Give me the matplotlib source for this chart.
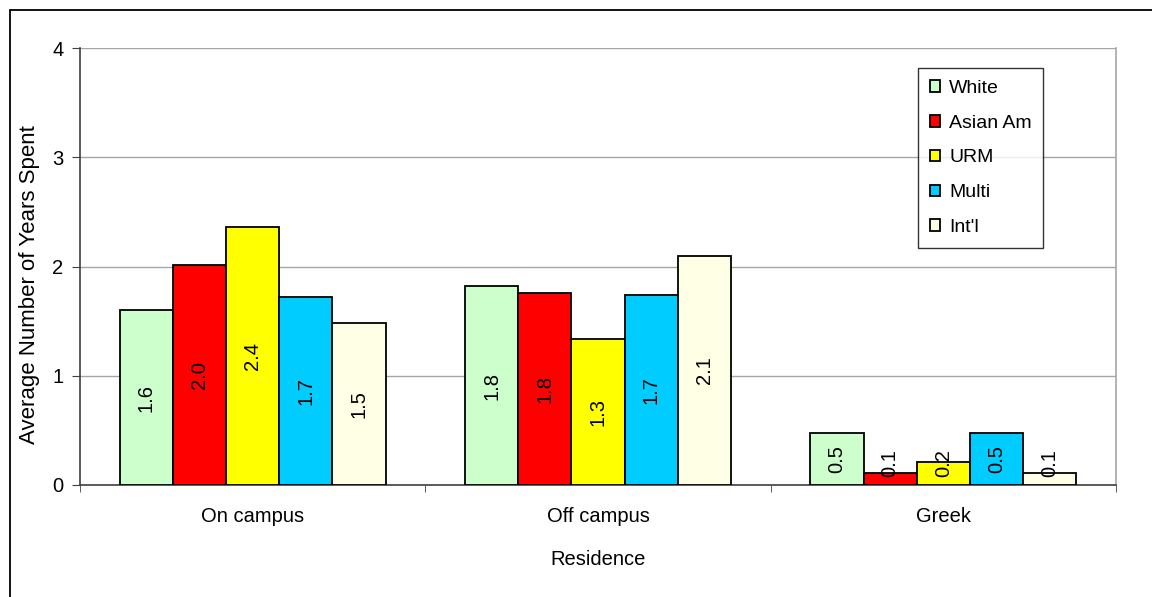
import matplotlib
matplotlib.use("Agg")
import matplotlib.pyplot as plt
from matplotlib.patches import Rectangle
import numpy as np

categories = ["On campus", "Off campus", "Greek"]
series_names = ["White", "Asian Am", "URM", "Multi", "Int'l"]
white = [1.60, 1.82, 0.48]
asian = [2.01, 1.76, 0.11]
urm = [2.36, 1.34, 0.21]
multi = [1.72, 1.74, 0.48]
intl = [1.48, 2.10, 0.11]
colors = ["#CCFFCC", "#FF0000", "#FFFF00", "#00CCFF", "#FFFFE6"]
y_ticks = [0, 1, 2, 3, 4]

plt.rcParams['font.family'] = ['Liberation Sans', 'DejaVu Sans']
FS = 14.5

fig = plt.figure(figsize=(11.52, 5.97), dpi=100)
W, H = 1152, 597
ax = fig.add_axes([80 / W, 1 - 485 / H, (1116 - 80) / W, (485 - 48) / H])

all_series = [white, asian, urm, multi, intl]
x = np.arange(len(categories))
bw = 0.154
n = len(all_series)
for i, (name, vals, c) in enumerate(zip(series_names, all_series, colors)):
    pos = x + (i - (n - 1) / 2) * bw
    ax.bar(pos, vals, width=bw, color=c, edgecolor="black", linewidth=1.3,
           label=name, zorder=3)
    for p, v in zip(pos, vals):
        ax.text(p, max(v / 2, 0.205), f"{v:.1f}", rotation=90, ha="center",
                va="center", fontsize=FS, color="black", zorder=4)

ax.set_xlim(-0.5, 2.5)
ax.set_ylim(0, 4)
ax.set_yticks(y_ticks)
ax.set_yticklabels([str(t) for t in y_ticks], fontsize=FS)
ax.set_xticks(x)
ax.set_xticklabels(categories, fontsize=FS)
ax.tick_params(axis="x", length=0, pad=16)
ax.set_xticks([-0.5, 0.5, 1.5, 2.5], minor=True)
ax.tick_params(axis="x", which="minor", length=5, color="#404040", direction="out")
ax.tick_params(axis="y", length=6, color="#404040", direction="out", pad=6)
ax.yaxis.grid(True, color="#A6A6A6", linewidth=1, zorder=0)
ax.set_axisbelow(True)
for s in ["top", "right"]:
    ax.spines[s].set_color("#A6A6A6")
    ax.spines[s].set_linewidth(1.2)
for s in ["left", "bottom"]:
    ax.spines[s].set_color("#404040")
    ax.spines[s].set_linewidth(1.2)
ax.spines["top"].set_visible(False)

ax.set_ylabel("Average Number of Years Spent", fontsize=16)
ax.yaxis.set_label_coords(-40 / 1036, (485 - 285) / 437)
ax.set_xlabel("Residence", fontsize=FS, labelpad=17)

leg = ax.legend(loc="upper left", bbox_to_anchor=((918 - 80) / 1036, 1 - (68 - 48) / 437),
                frameon=True, fancybox=False, edgecolor="black", fontsize=14,
                handlelength=0.55, handleheight=0.55, handletextpad=0.45,
                labelspacing=0.92, borderpad=0.6, borderaxespad=0)
leg.get_frame().set_linewidth(1.0)

# outer chart border (cut off at right and bottom)
fig.patches.append(Rectangle((10 / W, -0.1), 1.2, 1 - 10 / H + 0.1,
                             transform=fig.transFigure, fill=False,
                             edgecolor="black", linewidth=1.3))

fig.savefig("out.png", dpi=100)
